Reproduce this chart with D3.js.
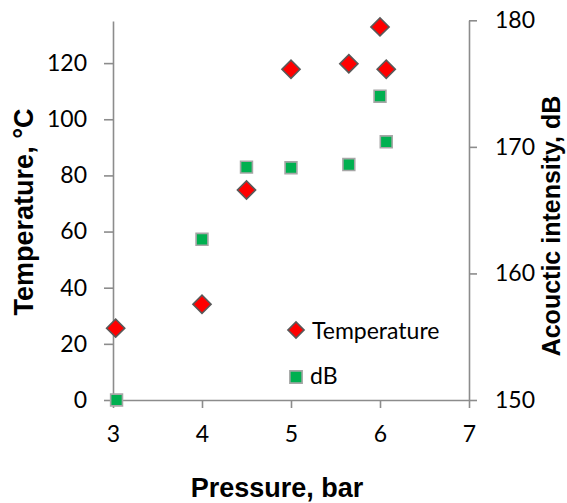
<!DOCTYPE html>
<html>
<head>
<meta charset="utf-8">
<script src="https://cdn.jsdelivr.net/npm/d3@7"></script>
<style>
  body { margin: 0; background: #fff; }
  svg { display: block; }
</style>
</head>
<body>
<svg></svg>
<script>
const width = 567;
const height = 503;

// pressure, bar
const pressure = [3.03, 4.0, 4.5, 5.0, 5.65, 6.0, 6.07];
// temperature, °C (left axis)
const temperature = [25.6, 34.1, 74.8, 117.8, 119.8, 132.9, 117.8];
// acoustic intensity, dB (right axis)
const pressureDb = [3.04, 4.0, 4.5, 5.0, 5.65, 6.0, 6.07];
const intensity = [150.0, 162.7, 168.4, 168.35, 168.6, 174.0, 170.4];

const xTicks = [3, 4, 5, 6, 7];
const yLeftTicks = [0, 20, 40, 60, 80, 100, 120];
const yRightTicks = [150, 160, 170, 180];

const axisColor = '#8c8c8c';
const tickFont = 'Lato, "Open Sans", sans-serif';
const titleFont = '"Liberation Sans", Arial, sans-serif';

const margin = { top: 21, right: 98, bottom: 103, left: 113 };
const plotW = width - margin.left - margin.right;
const plotH = height - margin.top - margin.bottom;

const svg = d3.select('svg').attr('width', width).attr('height', height);
const graph = svg.append('g').attr('transform', `translate(${margin.left}, ${margin.top})`);

const xScale = d3.scaleLinear().domain([3, 7]).range([0, plotW]);
const yLeft = d3.scaleLinear().domain([0, 135]).range([plotH, 0]);
const yRight = d3.scaleLinear().domain([150, 180]).range([plotH, -0.7]);

const styleAxis = g => {
  g.select('.domain').attr('stroke', axisColor).attr('stroke-width', 1.6);
  g.selectAll('.tick line').attr('stroke', axisColor).attr('stroke-width', 1.6);
  g.selectAll('.tick text')
    .attr('fill', '#000')
    .style('font-family', tickFont)
    .style('font-size', '23px');
};

graph
  .append('g')
  .attr('transform', `translate(0, ${plotH})`)
  .call(d3.axisBottom(xScale).tickValues(xTicks).tickSizeInner(8).tickSizeOuter(0).tickPadding(18).tickFormat(d3.format('d')))
  .call(styleAxis);

graph
  .append('g')
  .call(d3.axisLeft(yLeft).tickValues(yLeftTicks).tickSizeInner(9).tickSizeOuter(0).tickPadding(17))
  .call(styleAxis);

graph
  .append('g')
  .attr('transform', `translate(${plotW}, 0)`)
  .call(d3.axisRight(yRight).tickValues(yRightTicks).tickSizeInner(8).tickSizeOuter(0).tickPadding(18))
  .call(styleAxis);

const diamond = d3.symbol().type(d3.symbolSquare).size(165);
const square = d3.symbol().type(d3.symbolSquare).size(140);

graph
  .selectAll('.db')
  .data(intensity)
  .enter()
  .append('path')
  .attr('class', 'db')
  .attr('d', square)
  .attr('transform', (d, i) => `translate(${xScale(pressureDb[i])}, ${yRight(d)})`)
  .attr('fill', '#00b050')
  .attr('stroke', '#a6a6a6')
  .attr('stroke-width', 1.6);

graph
  .selectAll('.temp')
  .data(temperature)
  .enter()
  .append('path')
  .attr('class', 'temp')
  .attr('d', diamond)
  .attr('transform', (d, i) => `translate(${xScale(pressure[i])}, ${yLeft(d)}) rotate(45)`)
  .attr('fill', '#ff0000')
  .attr('stroke', '#595959')
  .attr('stroke-width', 1.6);

// legend
const legend = svg.append('g');
legend
  .append('path')
  .attr('d', d3.symbol().type(d3.symbolSquare).size(130))
  .attr('transform', 'translate(296, 330) rotate(45)')
  .attr('fill', '#ff0000')
  .attr('stroke', '#595959')
  .attr('stroke-width', 1.6);
legend
  .append('text')
  .text('Temperature')
  .attr('x', 312)
  .attr('y', 339)
  .style('font-family', tickFont)
  .style('font-size', '23px');
legend
  .append('path')
  .attr('d', d3.symbol().type(d3.symbolSquare).size(150))
  .attr('transform', 'translate(296, 377)')
  .attr('fill', '#00b050')
  .attr('stroke', '#a6a6a6')
  .attr('stroke-width', 1.6);
legend
  .append('text')
  .text('dB')
  .attr('x', 310)
  .attr('y', 384)
  .style('font-family', tickFont)
  .style('font-size', '23px');

// axis titles
svg
  .append('text')
  .text('Pressure, bar')
  .attr('x', 277)
  .attr('y', 497)
  .attr('text-anchor', 'middle')
  .style('font-family', titleFont)
  .style('font-weight', 'bold')
  .style('font-size', '27px');

svg
  .append('text')
  .text('Temperature, °C')
  .attr('transform', 'translate(33, 212) rotate(-90)')
  .attr('text-anchor', 'middle')
  .style('font-family', titleFont)
  .style('font-weight', 'bold')
  .style('font-size', '27px');

svg
  .append('text')
  .text('Acouctic intensity, dB')
  .attr('transform', 'translate(560, 226) rotate(-90)')
  .attr('text-anchor', 'middle')
  .style('font-family', titleFont)
  .style('font-weight', 'bold')
  .style('font-size', '25px');
</script>
</body>
</html>
